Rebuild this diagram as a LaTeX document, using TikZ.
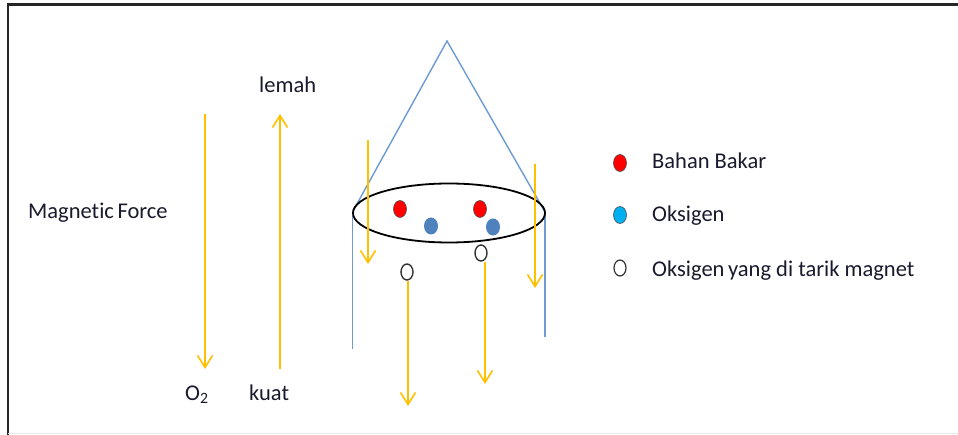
\documentclass[tikz,border=0pt]{standalone}
\usepackage{fontspec}
\setmainfont{Carlito}[Ligatures=NoCommon]
\usetikzlibrary{arrows.meta,shapes.geometric}
\definecolor{coneblue}{HTML}{4F81BD}
\definecolor{lineblue}{HTML}{6E9BD2}
\definecolor{forceyellow}{HTML}{FFC000}
\definecolor{fuelred}{HTML}{FF0000}
\definecolor{oxyblue}{HTML}{00B0F0}
\definecolor{textink}{HTML}{1A1A2E}
\begin{document}
\begin{tikzpicture}[x=1pt,y=-1pt,
  label/.style={font=\fontsize{22.5}{26}\selectfont, text=textink, inner sep=0pt, anchor=base west},
  force/.style={draw=forceyellow, line width=1.6pt, -{Straight Barb[length=12pt,width=15pt,line width=1.6pt]}},
  wall/.style={draw=lineblue, line width=1.4pt},
  fuel/.style={ellipse, draw=black!70, line width=0.6pt, fill=fuelred, minimum width=13pt, minimum height=17pt, inner sep=0pt},
  oxy/.style={ellipse, fill=coneblue, minimum width=14pt, minimum height=17pt, inner sep=0pt},
  legoxy/.style={ellipse, draw=black!70, line width=0.6pt, fill=oxyblue, minimum width=13pt, minimum height=17pt, inner sep=0pt},
  pulled/.style={ellipse, draw=black!80, line width=1.4pt, fill=white, minimum width=12pt, minimum height=16pt, inner sep=0pt},
]
\useasboundingbox (0,0) rectangle (958,435);
\fill[white] (0,0) rectangle (958,435);
% frame
\draw[black!85, line width=2.2pt] (8,436) -- (8,4.5) -- (959,4.5);
\draw[black!8, line width=1pt] (8,433) -- (958,433);

% burner: cone and cylinder
\coordinate (apex) at (447,41);
\coordinate (bl) at (352.5,212);
\coordinate (br) at (545,212);
\draw[wall] (bl) -- (apex) -- (br);
\draw[wall] (bl) -- (352.5,349);
\draw[wall] (br) -- (545,337);
\node[ellipse, draw=black, line width=1.8pt, minimum width=192pt, minimum height=59pt, inner sep=0pt] (ring) at (449,213) {};

% particles
\node[fuel] (f1) at (400,209) {};
\node[fuel] (f2) at (480,209) {};
\node[oxy] (o1) at (431,226) {};
\node[oxy] (o2) at (493,227) {};
\node[pulled] (p1) at (407,272) {};
\node[pulled] (p2) at (481,253) {};

% magnetic force arrows
\coordinate (a1s) at (205,114); \coordinate (a1e) at (205,369);
\coordinate (a2s) at (280,369); \coordinate (a2e) at (280,114);
\coordinate (a3s) at (368,140); \coordinate (a3e) at (368,264);
\coordinate (a4s) at (535,164); \coordinate (a4e) at (535,288);
\coordinate (a5e) at (408,406);
\coordinate (a6e) at (485,384);
\draw[force] (a1s) -- (a1e);
\draw[force] (a2s) -- (a2e);
\draw[force] (a3s) -- (a3e);
\draw[force] (a4s) -- (a4e);
\draw[force] (p1.south -| a5e) -- (a5e);
\draw[force] (p2.south -| a6e) -- (a6e);

% labels
\node[label] (lemah) at (259,93) {lemah};
\node[label] (mf) at (28,219) {Magnetic\hspace{-1.5pt} Force};
\node[label] (otwo) at (185,400) {O\textsubscript{2}};
\node[label] (kuat) at (249,400) {kuat};

% legend
\node[legoxy, fill=fuelred] (k1) at (620,163) {};
\node[label] (t1) at (652,169) {Bahan Bakar};
\node[legoxy] (k2) at (620,215) {};
\node[label] (t2) at (652,222) {Oksigen};
\node[pulled, line width=1.2pt] (k3) at (620,268) {};
\node[label] (t3) at (652,277) {Oksigen\hspace{-1.5pt} yang di tarik magnet};
\end{tikzpicture}
\end{document}
